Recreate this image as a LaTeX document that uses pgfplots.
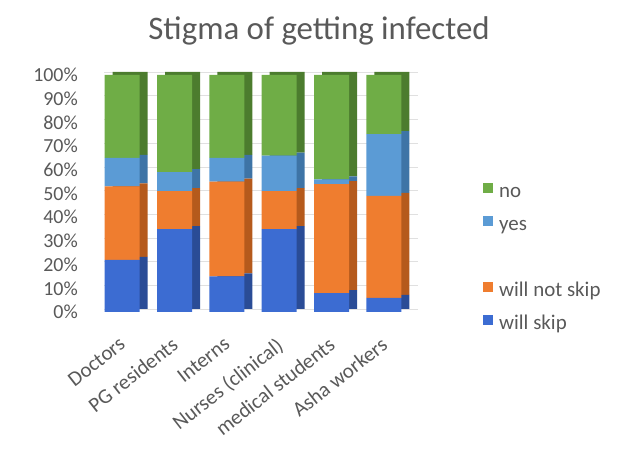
\documentclass[border=0pt]{standalone}
\usepackage{fontspec}
\setmainfont{Carlito}
\usepackage{pgfplots}
\pgfplotsset{compat=1.18}
\usepackage{pgfplotstable}

\definecolor{txt}{HTML}{595959}
\definecolor{skipF}{HTML}{3C6CD2}
\definecolor{skipS}{HTML}{2A4C96}
\definecolor{notF}{HTML}{EF7D2F}
\definecolor{notS}{HTML}{B55A1C}
\definecolor{yesF}{HTML}{5B9BD5}
\definecolor{yesS}{HTML}{3E74A6}
\definecolor{noF}{HTML}{6FAD46}
\definecolor{noS}{HTML}{4C7C2E}

% share of answers (%) per group
\pgfplotstableread{
idx skip notskip yes no
0   22   31      12  35
1   35   16      8   41
2   15   40      10  35
3   35   16      15  34
4   8    46      2   44
5   6    43      26  25
}\stigma

\pgfplotsset{
  barframe/.style={
    scale only axis, width=314bp, height=237bp,
    xmin=-0.5, xmax=5.5, ymin=0, ymax=100,
    ybar stacked, bar width=35bp,
    axis line style={draw=none}, tick style={draw=none},
    ytick={0,10,...,100}, xtick={0,...,5},
  }
}

\begin{document}
\begin{tikzpicture}[x=1bp,y=1bp]
\path[use as bounding box] (0,0) rectangle (617,455);
\node[anchor=base, text=txt, font=\fontsize{33}{39}\selectfont] at (319,415) {Stigma of getting infected};

% darker copies behind, giving each column a side and a top face
\begin{axis}[barframe, at={(104bp,146bp)}, anchor=south west,
  xticklabels={}, yticklabels={},
  ymajorgrids, grid style={black!12, line width=0.5bp}]
  \addplot[fill=skipS, draw=none] table[x=idx, y=skip]{\stigma};
  \addplot[fill=notS,  draw=none] table[x=idx, y=notskip]{\stigma};
  \addplot[fill=yesS,  draw=none] table[x=idx, y=yes]{\stigma};
  \addplot[fill=noS,   draw=none] table[x=idx, y=no]{\stigma};
\end{axis}

% front faces
\begin{axis}[barframe, at={(96bp,143bp)}, anchor=south west,
  /pgf/number format/assume math mode=true,
  xticklabels={Doctors, PG residents, Interns, Nurses (clinical), medical students, Asha workers},
  yticklabel={\pgfmathprintnumber{\tick}\%},
  ticklabel style={text=txt},
  yticklabel style={font=\fontsize{20}{24}\selectfont, anchor=east, inner sep=0pt, xshift=-18bp},
  xticklabel style={font=\fontsize{21}{25}\selectfont, xshift=-4bp, yshift=-24bp, rotate=38, anchor=north east, inner sep=0pt},
  legend image code/.code={\fill[#1, draw=none] (0bp,-0.5bp) rectangle (10bp,9.5bp);},
  legend style={draw=none, fill=none, inner sep=0pt, at={(1.2325,0.5464)}, anchor=north west,
    font=\fontsize{21}{25}\selectfont, text=txt, row sep=14bp, column sep=6bp,
    nodes={inner sep=0pt, text height=15bp, text depth=4bp}},
  legend cell align=left]
  \addplot[fill=skipF, draw=none, forget plot] table[x=idx, y=skip]{\stigma};
  \addplot[fill=notF,  draw=none, forget plot] table[x=idx, y=notskip]{\stigma};
  \addplot[fill=yesF,  draw=none, forget plot] table[x=idx, y=yes]{\stigma};
  \addplot[fill=noF,   draw=none, forget plot] table[x=idx, y=no]{\stigma};
  \addlegendimage{fill=noF}    \addlegendentry{no}
  \addlegendimage{fill=yesF}   \addlegendentry{yes}
  \addlegendimage{empty legend}\addlegendentry{}
  \addlegendimage{fill=notF}   \addlegendentry{will not skip}
  \addlegendimage{fill=skipF}  \addlegendentry{will skip}
\end{axis}
\end{tikzpicture}
\end{document}
